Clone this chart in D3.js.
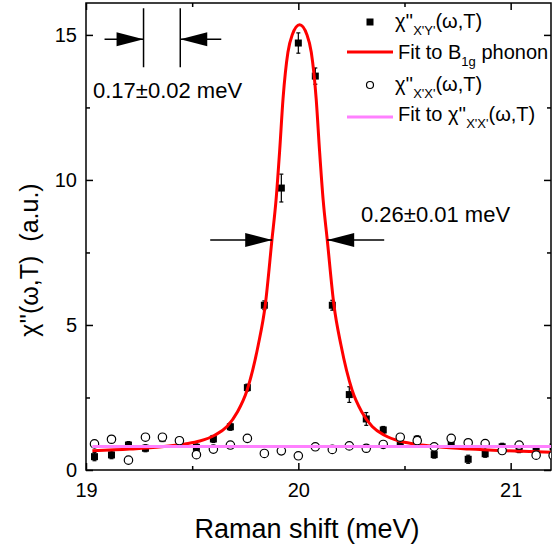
<!DOCTYPE html>
<html>
<head>
  <script src="https://d3js.org/d3.v7.min.js"></script>
  <style>
    body { margin: 0; background: #fff; }
    text { font-family: Arial, "Liberation Sans", sans-serif; fill: #000; }
    .axis path { display: none; }
    .axis line { stroke: #000; stroke-width: 1.5; }
    .axis text { font-size: 20px; }
  </style>
</head>
<body>
<div id="chart"></div>
<script>
// measured points (meV, a.u.)
var shift = [19.04, 19.12, 19.20, 19.28, 19.36, 19.44, 19.52, 19.60, 19.68, 19.76,
             19.84, 19.92, 20.00, 20.08, 20.16, 20.24, 20.32, 20.40, 20.48, 20.56,
             20.64, 20.72, 20.80, 20.88, 20.96, 21.04, 21.12, 21.20];
var chiXY = [0.46, 0.52, 0.86, 0.75, 1.10, 1.00, 0.78, 1.07, 1.49, 2.84,
             5.68, 9.72, 14.72, 13.58, 5.68, 2.60, 1.76, 1.38, 0.92, 1.06,
             0.53, 0.98, 0.37, 0.56, 0.80, 0.72, 0.68, 0.80];
var chiXYErr = [0.14, 0.13, 0.12, 0.12, 0.12, 0.12, 0.12, 0.12, 0.12, 0.12,
                0.15, 0.48, 0.35, 0.28, 0.17, 0.27, 0.22, 0.12, 0.12, 0.12,
                0.12, 0.12, 0.14, 0.12, 0.12, 0.12, 0.12, 0.12];
var chiXX = [0.90, 1.06, 0.34, 1.13, 1.13, 1.01, 0.53, 0.72, 0.86, 1.09,
             0.57, 0.66, 0.49, 0.80, 0.71, 0.83, 0.75, 0.88, 1.13, 1.01,
             0.80, 1.09, 0.94, 0.91, 0.67, 0.86, 0.51, 0.50];

// fit curves
var fitB1gX = [19.03, 19.206, 19.356, 19.466, 19.536, 19.606, 19.664, 19.713, 19.759, 19.811,
               19.844, 19.876, 19.895, 19.912, 19.928, 19.951, 19.971, 20.006, 20.041, 20.061,
               20.084, 20.100, 20.117, 20.136, 20.168, 20.201, 20.253, 20.299, 20.348, 20.406,
               20.476, 20.546, 20.656, 20.806, 20.986, 21.2];
var fitB1gY = [0.66, 0.72, 0.80, 0.90, 1.00, 1.20, 1.50, 2.00, 2.76, 4.30,
               5.67, 7.95, 9.30, 11.0, 12.8, 14.4, 15.0, 15.35, 15.0, 14.4,
               12.8, 11.0, 9.30, 7.95, 5.67, 4.30, 2.76, 2.00, 1.50, 1.20,
               1.00, 0.90, 0.80, 0.72, 0.66, 0.61];
var fitXXX = [19.03, 21.2];
var fitXXY = [0.81, 0.81];

var xTicks = [19, 20, 21], xMinor = [19.5, 20.5];
var yTicks = [0, 5, 10, 15], yMinor = [2.5, 7.5, 12.5];

// FWHM annotations: [left edge, right edge, height]
var fwhmRaw = [19.877, 20.136, 7.93];
var fwhmInst = [19.271, 19.444, 14.85];

var W = 553, H = 548;
var pL = 86, pR = 551, pT = 3, pB = 470;

var svg = d3.select("#chart").append("svg")
  .attr("width", W).attr("height", H);

var x = d3.scaleLinear().domain([19, 21.19]).range([pL, pR]);
var y = d3.scaleLinear().domain([0, 16.1]).range([pB, pT]);

svg.append("clipPath").attr("id", "clip")
  .append("rect").attr("x", pL).attr("y", pT)
  .attr("width", pR - pL).attr("height", pB - pT);

// axes, ticks pointing inward
function addAxis(axis, tr, labels) {
  var g = svg.append("g").attr("class", "axis").attr("transform", tr).call(axis);
  if (!labels) g.selectAll("text").remove();
  return g;
}
addAxis(d3.axisBottom(x).tickValues(xTicks).tickSize(-7).tickPadding(13).tickFormat(d3.format("d")),
  "translate(0," + pB + ")", true);
addAxis(d3.axisBottom(x).tickValues(xMinor).tickSize(-4), "translate(0," + pB + ")", false);
addAxis(d3.axisTop(x).tickValues(xTicks).tickSize(-7), "translate(0," + pT + ")", false);
addAxis(d3.axisTop(x).tickValues(xMinor).tickSize(-4), "translate(0," + pT + ")", false);
addAxis(d3.axisLeft(y).tickValues(yTicks).tickSize(-7).tickPadding(9),
  "translate(" + pL + ",0)", true);
addAxis(d3.axisLeft(y).tickValues(yMinor).tickSize(-4), "translate(" + pL + ",0)", false);
addAxis(d3.axisRight(y).tickValues(yTicks).tickSize(-7), "translate(" + pR + ",0)", false);
addAxis(d3.axisRight(y).tickValues(yMinor).tickSize(-4), "translate(" + pR + ",0)", false);

svg.append("rect")
  .attr("x", pL).attr("y", pT)
  .attr("width", pR - pL).attr("height", pB - pT)
  .attr("fill", "none").attr("stroke", "#000").attr("stroke-width", 1.5);

var plot = svg.append("g").attr("clip-path", "url(#clip)");

// X'Y' squares with error bars
var sq = plot.append("g");
shift.forEach(function(s, i) {
  var cx = x(s), v = chiXY[i], e = chiXYErr[i];
  sq.append("line").attr("x1", cx).attr("x2", cx)
    .attr("y1", y(v - e)).attr("y2", y(v + e))
    .attr("stroke", "#000").attr("stroke-width", 1.2);
  [v - e, v + e].forEach(function(t) {
    sq.append("line").attr("x1", cx - 2).attr("x2", cx + 2)
      .attr("y1", y(t)).attr("y2", y(t))
      .attr("stroke", "#000").attr("stroke-width", 1.2);
  });
  sq.append("rect").attr("x", cx - 3.5).attr("y", y(v) - 3.5)
    .attr("width", 7).attr("height", 7).attr("fill", "#000");
});

var line = d3.line().x(function(d) { return x(d[0]); }).y(function(d) { return y(d[1]); })
  .curve(d3.curveMonotoneX);

plot.append("path")
  .attr("d", line(d3.zip(fitB1gX, fitB1gY)))
  .attr("fill", "none").attr("stroke", "#ff0000").attr("stroke-width", 3);

plot.selectAll(".xx").data(d3.zip(shift, chiXX)).enter().append("circle")
  .attr("cx", function(d) { return x(d[0]); })
  .attr("cy", function(d) { return y(d[1]); })
  .attr("r", 4.2).attr("fill", "#fff").attr("stroke", "#000").attr("stroke-width", 1.2);

plot.append("path")
  .attr("d", line(d3.zip(fitXXX, fitXXY)))
  .attr("fill", "none").attr("stroke", "#ff80ff").attr("stroke-width", 3);

// arrows
function arrow(tipX, yy, dir, tail) {
  var tx = x(tipX), ty = y(yy);
  svg.append("line").attr("x1", tx).attr("x2", tx - dir * tail)
    .attr("y1", ty).attr("y2", ty).attr("stroke", "#000").attr("stroke-width", 1.5);
  svg.append("path")
    .attr("d", "M" + tx + "," + ty + "L" + (tx - dir * 27) + "," + (ty - 7) +
      "L" + (tx - dir * 27) + "," + (ty + 7) + "Z")
    .attr("fill", "#000");
}
arrow(fwhmRaw[0], fwhmRaw[2], 1, 62);
arrow(fwhmRaw[1], fwhmRaw[2], -1, 57);
arrow(fwhmInst[0], fwhmInst[2], 1, 39);
arrow(fwhmInst[1], fwhmInst[2], -1, 41);
[fwhmInst[0], fwhmInst[1]].forEach(function(v) {
  svg.append("line").attr("x1", x(v)).attr("x2", x(v))
    .attr("y1", y(fwhmInst[2]) - 31).attr("y2", y(fwhmInst[2]) + 28)
    .attr("stroke", "#000").attr("stroke-width", 1.5);
});

svg.append("text").attr("x", 93).attr("y", 98).style("font-size", "22px")
  .text("0.17\u00b10.02 meV");
svg.append("text").attr("x", 361).attr("y", 222).style("font-size", "22px")
  .text("0.26\u00b10.01 meV");

// axis titles
svg.append("text").attr("x", 307).attr("y", 538).attr("text-anchor", "middle")
  .style("font-size", "27px").text("Raman shift (meV)");
svg.append("text").attr("transform", "translate(38,260) rotate(-90)")
  .attr("text-anchor", "middle").style("font-size", "25px")
  .text("\u03c7''(\u03c9,T)\u00a0\u00a0(a.u.)");

// legend
var lg = svg.append("g").style("font-size", "20px");
function labelWithSub(tx, ty, pre, sub, post) {
  var t = lg.append("text").attr("x", tx).attr("y", ty);
  t.append("tspan").text(pre);
  t.append("tspan").attr("dy", 7).style("font-size", "13px").text(sub);
  t.append("tspan").attr("dy", -7).text(post);
}
lg.append("rect").attr("x", 366.5).attr("y", 18.5).attr("width", 7).attr("height", 7).attr("fill", "#000");
labelWithSub(395, 28, "\u03c7''", "X'Y'", "(\u03c9,T)");
lg.append("line").attr("x1", 347).attr("x2", 393).attr("y1", 52).attr("y2", 52)
  .attr("stroke", "#ff0000").attr("stroke-width", 3);
labelWithSub(398, 59, "Fit to B", "1g", " phonon");
lg.append("circle").attr("cx", 370).attr("cy", 85).attr("r", 3.5)
  .attr("fill", "#fff").attr("stroke", "#000").attr("stroke-width", 1.2);
labelWithSub(395, 91, "\u03c7''", "X'X'", "(\u03c9,T)");
lg.append("line").attr("x1", 347).attr("x2", 393).attr("y1", 117).attr("y2", 117)
  .attr("stroke", "#ff80ff").attr("stroke-width", 3);
labelWithSub(398, 121, "Fit to \u03c7''", "X'X'", "(\u03c9,T)");
</script>
</body>
</html>
